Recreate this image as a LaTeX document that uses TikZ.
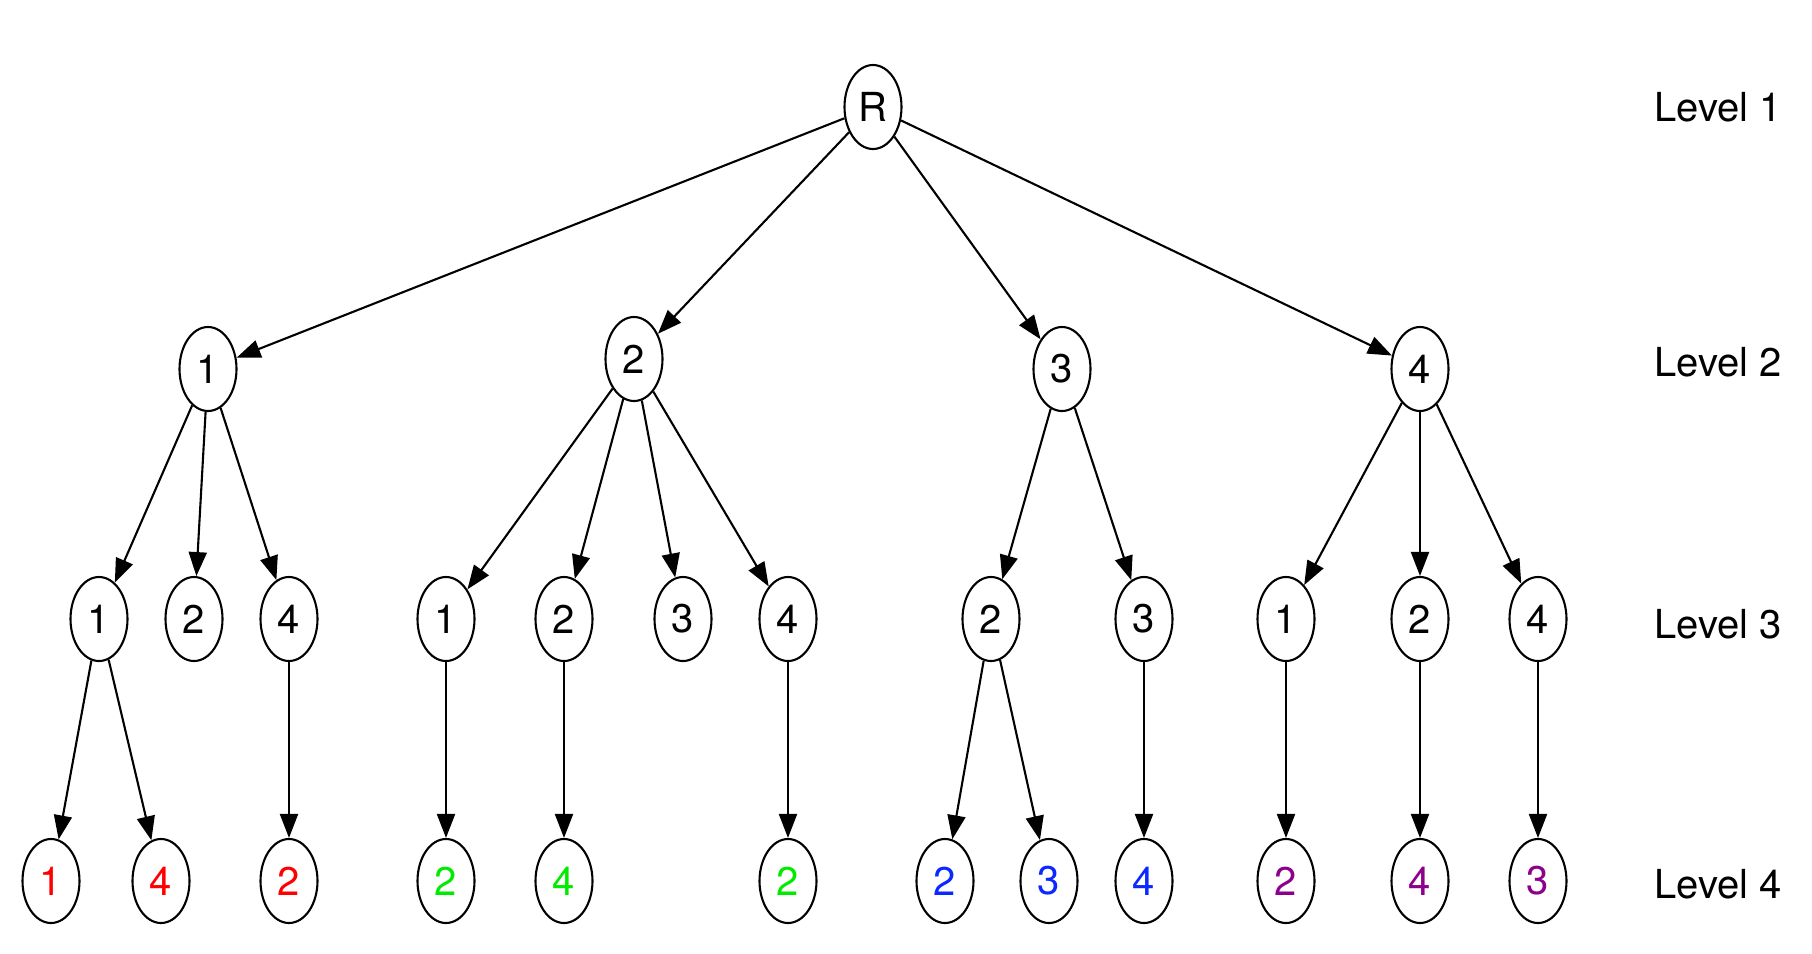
\documentclass[tikz,border=0pt]{standalone}
\usepackage{fontspec}
\setmainfont{TeX Gyre Heros}
\usetikzlibrary{arrows.meta,shapes.geometric}
\definecolor{tred}{RGB}{255,0,0}
\definecolor{tgreen}{RGB}{0,235,0}
\definecolor{tblue}{RGB}{10,40,255}
\definecolor{tpurple}{RGB}{140,0,140}
\begin{document}
\begin{tikzpicture}[x=0.5pt,y=-0.5pt,
  every node/.style={font=\fontsize{20}{24}\selectfont},
  tn/.style={draw,line width=1.05pt,ellipse,minimum width=28.5pt,minimum height=42pt,inner sep=0pt},
  lvl/.style={anchor=center},
  edge/.style={line width=1.05pt,-{Triangle[length=12pt,width=9pt]}}]
\useasboundingbox (0,0) rectangle (1812,954);
% level 1
\node[tn] (r) at (873,107) {R};
% level 2
\node[tn] (a) at (208,369) {1};
\node[tn] (b) at (634,359) {2};
\node[tn] (c) at (1062,369) {3};
\node[tn] (d) at (1420,369) {4};
% level 3
\node[tn] (a1) at (99,619) {1};
\node[tn] (a2) at (194,619) {2};
\node[tn] (a4) at (289,619) {4};
\node[tn] (b1) at (446,619) {1};
\node[tn] (b2) at (564,619) {2};
\node[tn] (b3) at (683,619) {3};
\node[tn] (b4) at (788,619) {4};
\node[tn] (c2) at (991,619) {2};
\node[tn] (c3) at (1144,619) {3};
\node[tn] (d1) at (1286,619) {1};
\node[tn] (d2) at (1420,619) {2};
\node[tn] (d4) at (1538,619) {4};
% level 4
\node[tn,text=tred] (a11) at (51,881) {1};
\node[tn,text=tred] (a14) at (161,881) {4};
\node[tn,text=tred] (a42) at (289,881) {2};
\node[tn,text=tgreen] (b12) at (446,881) {2};
\node[tn,text=tgreen] (b24) at (564,881) {4};
\node[tn,text=tgreen] (b42) at (788,881) {2};
\node[tn,text=tblue] (c22) at (945,881) {2};
\node[tn,text=tblue] (c23) at (1049,881) {3};
\node[tn,text=tblue] (c34) at (1144,881) {4};
\node[tn,text=tpurple] (d12) at (1286,881) {2};
\node[tn,text=tpurple] (d24) at (1420,881) {4};
\node[tn,text=tpurple] (d43) at (1538,881) {3};
% level labels
\node[lvl] (l1) at (1718,107) {Level 1};
\node[lvl] (l2) at (1718,362) {Level 2};
\node[lvl] (l3) at (1718,624) {Level 3};
\node[lvl] (l4) at (1718,884) {Level 4};
% edges
\foreach \s/\t in {r/a,r/b,r/c,r/d,
  a/a1,a/a2,a/a4,b/b1,b/b2,b/b3,b/b4,c/c2,c/c3,d/d1,d/d2,d/d4,
  a1/a11,a1/a14,a4/a42,b1/b12,b2/b24,b4/b42,c2/c22,c2/c23,c3/c34,
  d1/d12,d2/d24,d4/d43}
  \draw[edge] (\s) -- (\t);
\end{tikzpicture}
\end{document}
